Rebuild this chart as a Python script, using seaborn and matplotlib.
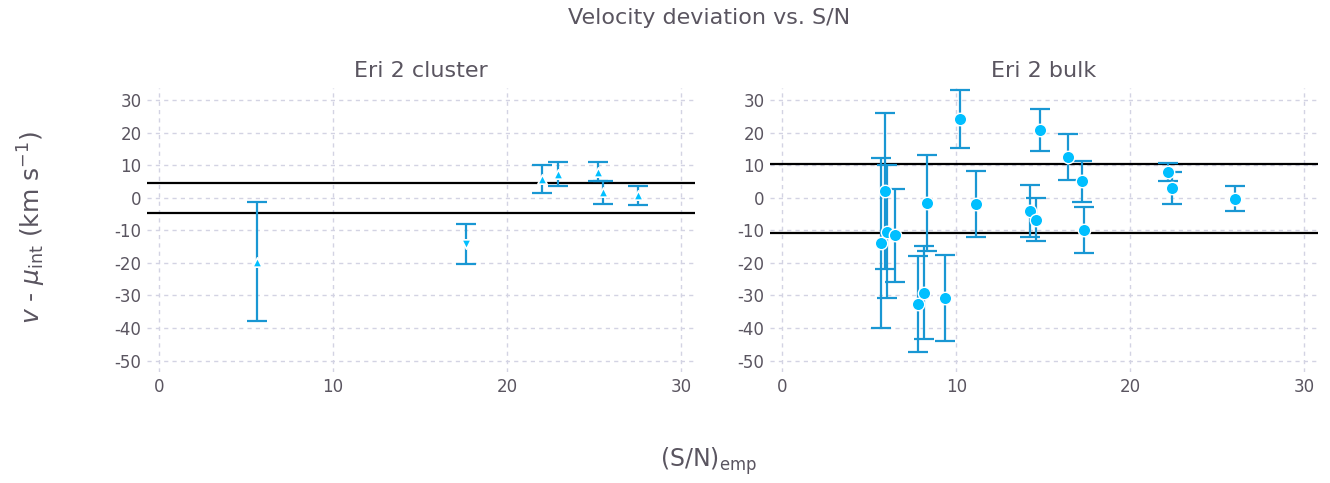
import numpy as np
import pandas as pd
import matplotlib
matplotlib.use('Agg')
import matplotlib.pyplot as plt
import seaborn as sns

# Eri 2 cluster members
cluster_sn = [5.6, 17.65, 22.0, 22.9, 25.2, 25.5, 27.5]
cluster_dv = [-19.6, -14.2, 5.8, 7.3, 8.0, 1.7, 0.7]
cluster_err = [18.3, 6.2, 4.2, 3.7, 3.0, 3.5, 3.0]
cluster_mark = ['^', 'v', '^', '^', '^', '^', '^']
cluster_band = [4.6, -4.8]

# Eri 2 bulk members
bulk_sn = [5.65, 5.9, 6.0, 6.5, 7.8, 8.15, 8.35, 9.35, 10.2, 11.15,
           14.25, 14.6, 14.8, 16.4, 17.25, 17.35, 22.15, 22.4, 26.0]
bulk_dv = [-13.9, 2.1, -10.4, -11.5, -32.6, -29.1, -1.6, -30.9, 24.3, -2.0,
           -4.2, -6.7, 20.9, 12.4, 5.0, -9.8, 7.9, 2.9, -0.3]
bulk_err = [26.0, 23.9, 20.4, 14.3, 14.7, 14.2, 14.8, 13.2, 8.9, 10.1,
            8.0, 6.6, 6.4, 7.1, 6.2, 7.1, 2.85, 4.9, 3.8]
bulk_band = [10.4, -10.8]

xticks = [0, 10, 20, 30]
yticks = [-50, -40, -30, -20, -10, 0, 10, 20, 30]

bar_col = '#1997d3'
pt_col = '#00bfff'
txt_col = '#5a5560'

sns.set_theme(style='whitegrid')
plt.rcParams['font.family'] = ['DejaVu Sans']
plt.rcParams['axes.unicode_minus'] = False

fig = plt.figure(figsize=(13.3, 4.83), dpi=100)
ax1 = fig.add_axes([0.1105, 0.2298, 0.412, 0.588])
ax2 = fig.add_axes([0.579, 0.2298, 0.412, 0.588])

cl = pd.DataFrame({'sn': cluster_sn, 'dv': cluster_dv, 'err': cluster_err, 'm': cluster_mark})
bk = pd.DataFrame({'sn': bulk_sn, 'dv': bulk_dv, 'err': bulk_err})

for ax, band in [(ax1, cluster_band), (ax2, bulk_band)]:
    for b in band:
        ax.axhline(b, color='black', lw=1.6, zorder=2)

ax1.errorbar(cl['sn'], cl['dv'], yerr=cl['err'], fmt='none', ecolor=bar_col,
             elinewidth=1.6, capsize=7, capthick=1.6, zorder=3)
for m, grp in cl.groupby('m'):
    sns.scatterplot(data=grp, x='sn', y='dv', marker=m, s=45, color=pt_col,
                    edgecolor='white', linewidth=1.2, ax=ax1, zorder=4)

ax2.errorbar(bk['sn'], bk['dv'], yerr=bk['err'], fmt='none', ecolor=bar_col,
             elinewidth=1.6, capsize=7, capthick=1.6, zorder=3)
sns.scatterplot(data=bk, x='sn', y='dv', marker='o', s=80, color=pt_col,
                edgecolor='white', linewidth=1.0, ax=ax2, zorder=4)

for ax, title in [(ax1, 'Eri 2 cluster'), (ax2, 'Eri 2 bulk')]:
    ax.set_xlim(-0.7, 30.8)
    ax.set_ylim(-53.5, 33.7)
    ax.set_xticks(xticks)
    ax.set_yticks(yticks)
    ax.set_xlabel('')
    ax.set_ylabel('')
    ax.set_title(title, fontsize=16, color=txt_col, pad=8)
    ax.grid(True, color='#d3d3e3', linestyle=(0, (3, 3)), linewidth=1.0)
    ax.set_facecolor('white')
    for s in ax.spines.values():
        s.set_visible(False)
    ax.tick_params(axis='both', length=0, labelsize=12, colors=txt_col, pad=4)

fig.text(0.533, 0.963, 'Velocity deviation vs. S/N', ha='center', va='center',
         fontsize=16, color=txt_col)
fig.text(0.533, 0.045, r'(S/N)$_{\rm emp}$', ha='center', va='center',
         fontsize=17, color=txt_col)
fig.text(0.024, 0.53, r'$v$ - $\mu_{\rm int}$ (km s$^{-1}$)', ha='center', va='center',
         rotation=90, fontsize=18, color=txt_col)

fig.savefig('out.png', dpi=100)
